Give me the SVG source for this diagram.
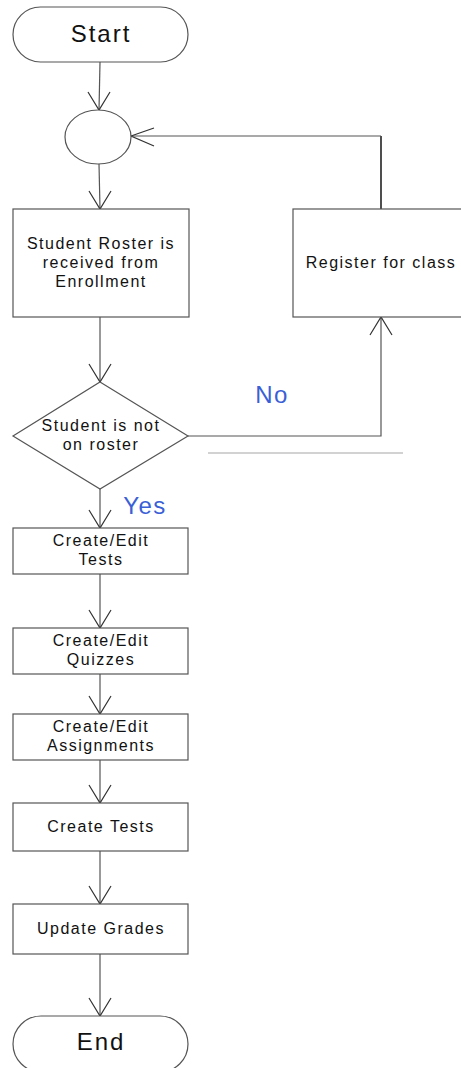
<svg xmlns="http://www.w3.org/2000/svg" width="461" height="1068" viewBox="0 0 461 1068">
  <style>
    .shape { fill: #ffffff; stroke: #555555; stroke-width: 1.2; }
    .label { font-family: "Liberation Sans", Arial, sans-serif; font-size: 16px; fill: #111111; text-anchor: middle; letter-spacing: 1.5px; }
    .term { font-family: "Liberation Sans", Arial, sans-serif; font-size: 24px; fill: #111111; text-anchor: middle; letter-spacing: 2px; }
    .branch { font-family: "Liberation Sans", Arial, sans-serif; font-size: 24px; fill: #3a5fd6; text-anchor: middle; letter-spacing: 1.5px; }
    .wire { fill: none; stroke: #555555; stroke-width: 1.2; }
    .head { fill: none; stroke: #333333; stroke-width: 1.2; }
  </style>

  <rect width="461" height="1068" fill="#ffffff"/>

  <g id="connectors">
    <!-- Start to junction -->
    <path class="wire" d="M100 62 L99 110"/>
    <path class="head" d="M88 92 L99 110 L110 92"/>
    <!-- junction to roster -->
    <path class="wire" d="M99 164 L100 209"/>
    <path class="head" d="M89 191 L100 209 L111 191"/>
    <!-- roster to decision -->
    <path class="wire" d="M100 317 L100 382"/>
    <path class="head" d="M89 364 L100 382 L111 364"/>
    <!-- No branch to register -->
    <path class="wire" d="M188 436 L381 436 L381 317"/>
    <path class="head" d="M370 335 L381 317 L392 335"/>
    <!-- register loops back to junction -->
    <path d="M381 209 L381 136" fill="none" stroke="#222222" stroke-width="1.6"/>
    <path class="wire" d="M381 136 L131 136"/>
    <path class="head" d="M154 128 L131 136 L154 146"/>
    <!-- Yes branch -->
    <path class="wire" d="M100 489 L100 528"/>
    <path class="head" d="M89 510 L100 528 L111 510"/>
    <path class="wire" d="M100 574 L100 628"/>
    <path class="head" d="M89 610 L100 628 L111 610"/>
    <path class="wire" d="M100 674 L100 714"/>
    <path class="head" d="M89 696 L100 714 L111 696"/>
    <path class="wire" d="M100 760 L100 803"/>
    <path class="head" d="M89 785 L100 803 L111 785"/>
    <path class="wire" d="M100 851 L100 904"/>
    <path class="head" d="M89 886 L100 904 L111 886"/>
    <path class="wire" d="M100 954 L100 1016"/>
    <path class="head" d="M89 998 L100 1016 L111 998"/>
    <!-- faint rule under the No branch -->
    <path d="M208 453 L403 453" fill="none" stroke="#d2d2d2" stroke-width="2"/>
  </g>

  <g id="start">
    <rect class="shape" x="13" y="7" width="175" height="55" rx="27.5" ry="27.5"/>
    <text class="term" x="101" y="42">Start</text>
  </g>

  <g id="junction">
    <ellipse class="shape" cx="98" cy="137" rx="33" ry="27"/>
  </g>

  <g id="roster">
    <rect class="shape" x="13" y="209" width="176" height="108"/>
    <text class="label" x="101" y="249">Student Roster is</text>
    <text class="label" x="101" y="268">received from</text>
    <text class="label" x="101" y="287">Enrollment</text>
  </g>

  <g id="register">
    <rect class="shape" x="293" y="209" width="175" height="108"/>
    <text class="label" x="381" y="268">Register for class</text>
  </g>

  <g id="decision">
    <path class="shape" d="M100 382 L188 436 L100 489 L13 436 Z"/>
    <text class="label" x="101" y="431">Student is not</text>
    <text class="label" x="101" y="450">on roster</text>
  </g>

  <g id="label-no">
    <text class="branch" x="272" y="403">No</text>
  </g>

  <g id="label-yes">
    <text class="branch" x="145" y="514">Yes</text>
  </g>

  <g id="edit-tests">
    <rect class="shape" x="13" y="528" width="175" height="46"/>
    <text class="label" x="101" y="546">Create/Edit</text>
    <text class="label" x="101" y="565">Tests</text>
  </g>

  <g id="edit-quizzes">
    <rect class="shape" x="13" y="628" width="175" height="46"/>
    <text class="label" x="101" y="646">Create/Edit</text>
    <text class="label" x="101" y="665">Quizzes</text>
  </g>

  <g id="edit-assignments">
    <rect class="shape" x="13" y="714" width="175" height="46"/>
    <text class="label" x="101" y="732">Create/Edit</text>
    <text class="label" x="101" y="751">Assignments</text>
  </g>

  <g id="create-tests">
    <rect class="shape" x="13" y="803" width="175" height="48"/>
    <text class="label" x="101" y="832">Create Tests</text>
  </g>

  <g id="update-grades">
    <rect class="shape" x="13" y="904" width="175" height="50"/>
    <text class="label" x="101" y="934">Update Grades</text>
  </g>

  <g id="end">
    <rect class="shape" x="13" y="1016" width="175" height="56" rx="28" ry="28"/>
    <text class="term" x="101" y="1050">End</text>
  </g>
</svg>
